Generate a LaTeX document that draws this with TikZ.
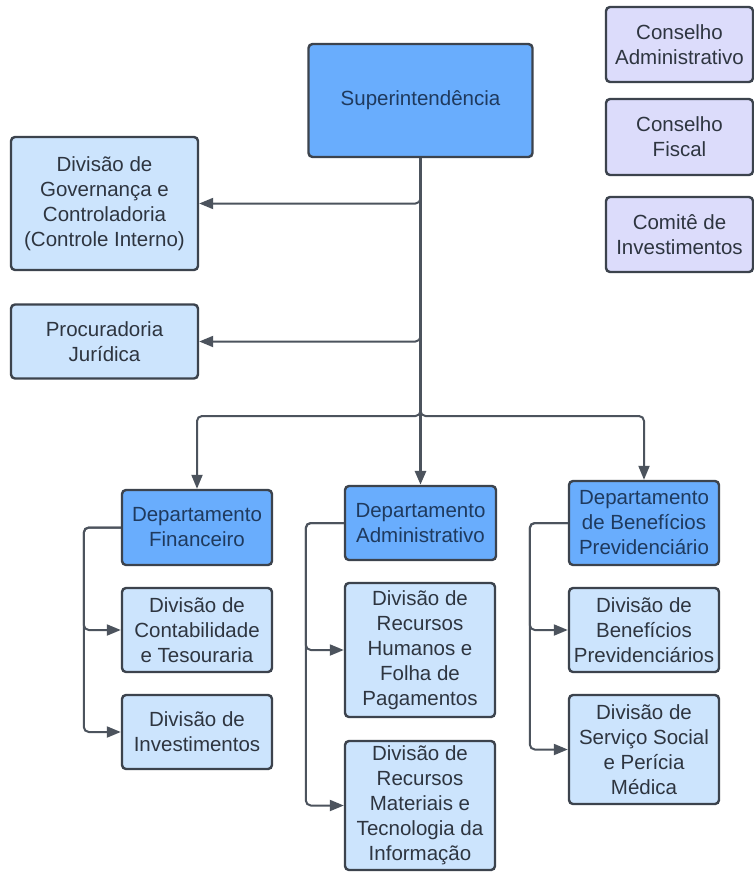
\documentclass[tikz,border=0pt]{standalone}
\usepackage{fontspec}
\setmainfont{Liberation Sans}
\usetikzlibrary{arrows.meta,calc}
\definecolor{dkfill}{HTML}{69ADFD}
\definecolor{ltfill}{HTML}{CCE4FD}
\definecolor{lvfill}{HTML}{DCDCFB}
\definecolor{edge}{HTML}{3C434D}
\definecolor{lnc}{HTML}{4C535D}
\definecolor{dktext}{HTML}{1F3A5E}
\definecolor{lttext}{HTML}{2E3540}
\tikzset{
  boxbase/.style={draw=edge, line width=2.4pt, rounded corners=4pt, align=center,
    inner sep=0pt, font=\fontsize{20.5}{25}\selectfont},
  darkbox/.style={boxbase, fill=dkfill, text=dktext},
  lightbox/.style={boxbase, fill=ltfill, text=lttext},
  lavbox/.style={boxbase, fill=lvfill, text=lttext},
  conn/.style={draw=lnc, line width=2pt, rounded corners=5pt,
    -{Triangle[length=14pt,width=11pt]}},
}
\begin{document}
\begin{tikzpicture}[x=1pt,y=-1pt]
\useasboundingbox (0,0) rectangle (754,873);
\fill[white] (0,0) rectangle (754,873);

% top right boards
\node[lavbox, minimum width=147, minimum height=75] (cadm) at (679.5,44.5) {Conselho\\Administrativo};
\node[lavbox, minimum width=147, minimum height=76] (cfis) at (679.5,137) {Conselho\\Fiscal};
\node[lavbox, minimum width=147, minimum height=75] (cinv) at (679.5,234.5) {Comitê de\\Investimentos};

% superintendence
\node[darkbox, minimum width=224, minimum height=113] (sup) at (420.5,100.5) {Superintendência};

% staff units
\node[lightbox, minimum width=187, minimum height=133] (gov) at (104.5,203.5) {Divisão de\\Governança e\\Controladoria\\(Controle Interno)};
\node[lightbox, minimum width=187, minimum height=74] (proc) at (104.5,341.5) {Procuradoria\\Jurídica};

% departments
\node[darkbox, minimum width=150, minimum height=75] (fin) at (197,527.5) {Departamento\\Financeiro};
\node[darkbox, minimum width=151, minimum height=74] (adm) at (420.5,523) {Departamento\\Administrativo};
\node[darkbox, minimum width=150, minimum height=84] (ben) at (644,523) {Departamento\\de Benefícios\\Previdenciário};

% divisions
\node[lightbox, minimum width=150, minimum height=84] (cont) at (197,630) {Divisão de\\Contabilidade\\e Tesouraria};
\node[lightbox, minimum width=150, minimum height=74] (dinv) at (197,732) {Divisão de\\Investimentos};
\node[lightbox, minimum width=150, minimum height=134] (rh) at (420,650) {Divisão de\\Recursos\\Humanos e\\Folha de\\Pagamentos};
\node[lightbox, minimum width=150, minimum height=129] (rm) at (420,805.5) {Divisão de\\Recursos\\Materiais e\\Tecnologia da\\Informação};
\node[lightbox, minimum width=150, minimum height=84] (dbp) at (644,630) {Divisão de\\Benefícios\\Previdenciários};
\node[lightbox, minimum width=150, minimum height=109] (dss) at (644,749.5) {Divisão de\\Serviço Social\\e Perícia\\Médica};

% connectors from superintendence
\coordinate (junc) at ($(sup.south |- 0,416)$);
\draw[conn] (sup.south) |- (gov.east);
\draw[conn] (sup.south) |- (proc.east);
\draw[conn] (sup.south) -- (junc) -| (fin.north);
\draw[conn] (sup.south) -- (junc) -| (ben.north);
\draw[conn, line width=3pt] (sup.south) -- (adm.north);

% department to divisions
\draw[conn] (fin.west) -- ++(-37,0) |- (cont.west);
\draw[conn] (fin.west) -- ++(-37,0) |- (dinv.west);
\draw[conn] (adm.west) -- ++(-38,0) |- (rh.west);
\draw[conn] (adm.west) -- ++(-38,0) |- (rm.west);
\draw[conn] (ben.west) -- ++(-38,0) |- (dbp.west);
\draw[conn] (ben.west) -- ++(-38,0) |- (dss.west);
\end{tikzpicture}
\end{document}
